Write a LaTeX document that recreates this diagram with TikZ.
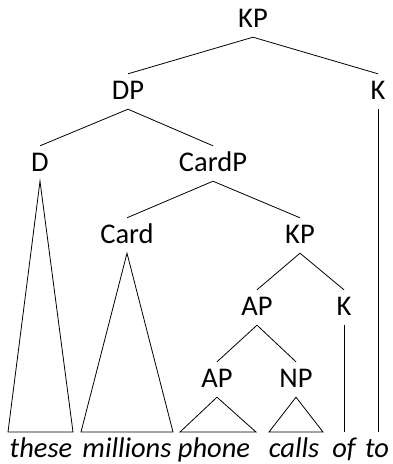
\documentclass[tikz,border=0pt]{standalone}
\usepackage{fontspec}
\setmainfont{Carlito}
\begin{document}
\begin{tikzpicture}[x=1pt,y=-1pt,
  lab/.style={font=\fontsize{28.5}{32}\selectfont, text height=19pt, text depth=4pt, inner xsep=0pt, inner ysep=6pt, anchor=base},
  wd/.style={font=\fontsize{28.5}{32}\selectfont\itshape, inner sep=0pt, anchor=base},
  edge/.style={line width=0.8pt}]
\useasboundingbox (0,0) rectangle (393,464);
\node[lab] (kp) at (253,27) {KP};
\node[lab] (dp) at (128,99) {DP};
\node[lab] (k1) at (378,99) {K};
\node[lab] (d) at (40,171) {D};
\node[lab] (cardp) at (213,171) {CardP};
\node[lab] (card) at (127,243) {Card};
\node[lab] (kp2) at (300,243) {KP};
\node[lab] (ap) at (257,315) {AP};
\node[lab] (k2) at (344,315) {K};
\node[lab] (ap2) at (217,387) {AP};
\node[lab] (np) at (296,387) {NP};
\node[wd] (w1) at (41,457) {these};
\node[wd] (w2) at (127,457) {millions};
\node[wd] (w3) at (214,457) {phone};
\node[wd] (w4) at (294,457) {calls};
\node[wd] (w5) at (344,457) {of};
\node[wd] (w6) at (377,457) {to};
\coordinate (dl) at (8,432); \coordinate (dr) at (73,432);
\coordinate (cl) at (81,432); \coordinate (cr) at (173,432);
\coordinate (al) at (180,432); \coordinate (ar) at (256,432);
\coordinate (nl) at (269,432); \coordinate (nr) at (323,432);
\coordinate (k1b) at (378,432); \coordinate (k2b) at (344,432);
\draw[edge] (dp.north) -- (kp.south) -- (k1.north);
\draw[edge] (d.north) -- (dp.south) -- (cardp.north);
\draw[edge] (card.north) -- (cardp.south) -- (kp2.north);
\draw[edge] (ap.north) -- (kp2.south) -- (k2.north);
\draw[edge] (ap2.north) -- (ap.south) -- (np.north);
\draw[edge] (k1.south) -- (k1b);
\draw[edge] (k2.south) -- (k2b);
\draw[edge] (d.south) -- (dl) -- (dr) -- cycle;
\draw[edge] (card.south) -- (cl) -- (cr) -- cycle;
\draw[edge] (ap2.south) -- (al) -- (ar) -- cycle;
\draw[edge] (np.south) -- (nl) -- (nr) -- cycle;
\end{tikzpicture}
\end{document}
